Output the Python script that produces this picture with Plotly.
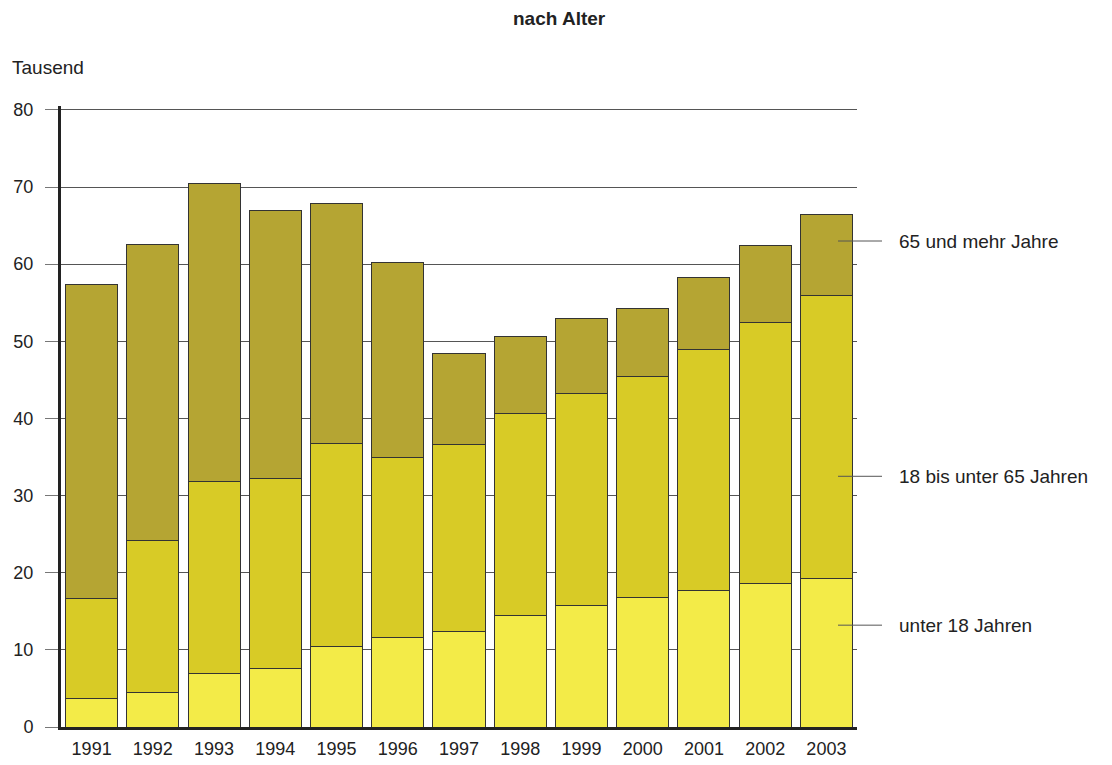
import plotly.graph_objects as go

years = ["1991", "1992", "1993", "1994", "1995", "1996", "1997",
         "1998", "1999", "2000", "2001", "2002", "2003"]
unter_18 = [3.7, 4.5, 6.9, 7.6, 10.5, 11.6, 12.4, 14.5, 15.7, 16.8, 17.7, 18.6, 19.3]
von_18_bis_65 = [12.9, 19.7, 24.9, 24.6, 26.2, 23.3, 24.2, 26.1, 27.5, 28.6, 31.3, 33.8, 36.7]
ab_65 = [40.8, 38.4, 38.6, 34.8, 31.2, 25.3, 11.8, 10.0, 9.7, 8.8, 9.3, 10.0, 10.4]
y_ticks = [0, 10, 20, 30, 40, 50, 60, 70, 80]

series = [
    ("unter 18 Jahren", unter_18, "#F3EB48", 13.2),
    ("18 bis unter 65 Jahren", von_18_bis_65, "#D8CB26", 32.5),
    ("65 und mehr Jahre", ab_65, "#B5A533", 63.0),
]

FONT = "Liberation Sans, Arial, sans-serif"
TOP = 106
PH = 765 - 38 - TOP

fig = go.Figure()
for name, vals, col, _ in series:
    fig.add_trace(go.Bar(
        x=years, y=vals, name=name,
        marker=dict(color=col, line=dict(color="#333333", width=1)),
    ))

fig.update_layout(
    barmode="stack",
    bargap=0.15,
    width=1112, height=765,
    margin=dict(l=61, r=255, t=TOP, b=38),
    paper_bgcolor="white", plot_bgcolor="white",
    showlegend=False,
    font=dict(family=FONT, size=18, color="#222222"),
)

fig.update_xaxes(
    type="category", automargin=False,
    showline=True, linecolor="#222222", linewidth=3,
    showgrid=False, ticks="", ticklabelstandoff=3,
    tickfont=dict(size=18, color="#222222"),
)
fig.update_yaxes(
    range=[0, 80.5], tickvals=y_ticks, automargin=False,
    showgrid=True, gridcolor="#555555", gridwidth=1,
    zeroline=False,
    showline=True, linecolor="#222222", linewidth=3,
    ticks="outside", ticklen=13, tickcolor="#777777", tickwidth=1,
    ticklabelstandoff=8,
    tickfont=dict(size=18, color="#222222"),
)

# title and unit
fig.add_annotation(text="<b>nach Alter</b>", xref="paper", yref="paper",
                   x=(559 - 61) / 796, y=1 + (TOP - 18) / PH,
                   xanchor="center", yanchor="middle", showarrow=False,
                   font=dict(size=19, color="#222222"))
fig.add_annotation(text="Tausend", xref="paper", yref="paper",
                   x=(10 - 61) / 796, y=1 + (TOP - 68) / PH,
                   xanchor="left", yanchor="middle", showarrow=False,
                   font=dict(size=19, color="#222222"))

# series labels with leader lines
for name, vals, col, ylab in series:
    fig.add_shape(type="line", xref="paper", yref="y",
                  x0=(838 - 61) / 796, x1=(882 - 61) / 796, y0=ylab, y1=ylab,
                  line=dict(color="#555555", width=1), layer="above")
    fig.add_annotation(text=name, xref="paper", yref="y",
                       x=(897 - 61) / 796, y=ylab, xanchor="left", yanchor="middle",
                       showarrow=False, font=dict(size=19, color="#222222"))

fig.write_html("out.html")
